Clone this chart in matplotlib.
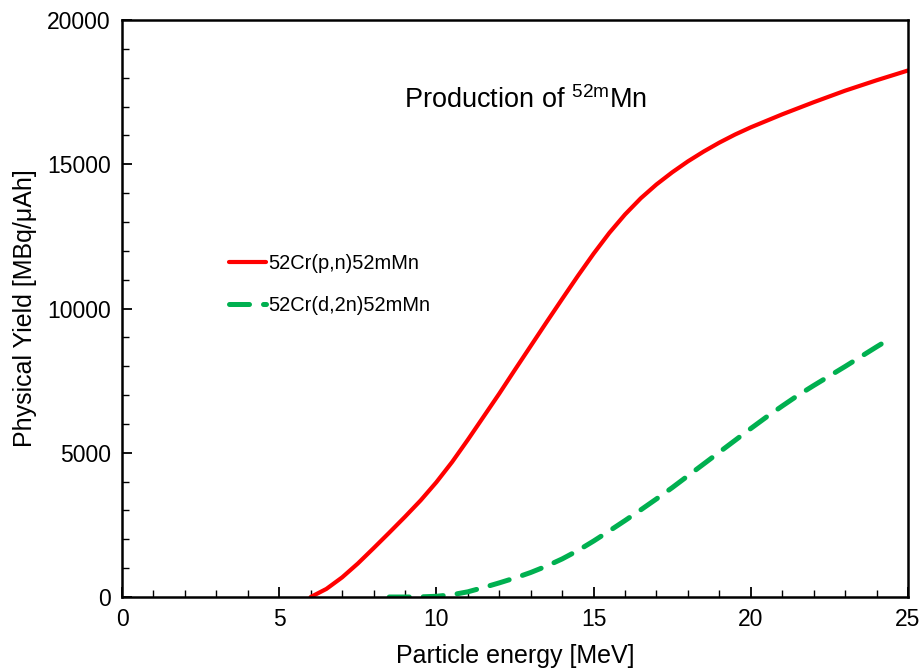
import matplotlib.pyplot as plt
from matplotlib.ticker import MultipleLocator

plt.rcParams['font.family'] = ['Liberation Sans', 'DejaVu Sans']
plt.rcParams['mathtext.fontset'] = 'custom'
plt.rcParams['mathtext.rm'] = 'Liberation Sans'

# 52Cr(p,n)52mMn
energy_pn = [6.0, 6.5, 7.0, 7.5, 8.0, 8.5, 9.0, 9.5, 10.0, 10.5, 11.0, 11.5, 12.0,
             12.5, 13.0, 13.5, 14.0, 14.5, 15.0, 15.5, 16.0, 16.5, 17.0, 17.5, 18.0,
             18.5, 19.0, 19.5, 20.0, 21.0, 22.0, 23.0, 24.0, 25.0]
yield_pn = [0, 280, 680, 1160, 1690, 2230, 2780, 3350, 3980, 4680, 5450, 6250, 7050,
            7880, 8700, 9520, 10330, 11130, 11900, 12620, 13260, 13820, 14300, 14720, 15100,
            15440, 15750, 16030, 16280, 16730, 17150, 17550, 17910, 18250]

# 52Cr(d,2n)52mMn
energy_d2n = [8.5, 9.0, 9.5, 10.0, 10.5, 11.0, 11.5, 12.0, 12.5, 13.0, 13.5, 14.0,
              14.5, 15.0, 15.5, 16.0, 16.5, 17.0, 17.5, 18.0, 18.5, 19.0, 19.5, 20.0,
              20.5, 21.0, 21.5, 22.0, 22.5, 23.0, 23.5, 24.0, 24.5]
yield_d2n = [0, 0, 5, 25, 80, 180, 330, 490, 660, 850, 1070, 1320, 1610, 1940, 2290,
             2650, 3020, 3400, 3790, 4200, 4610, 5020, 5430, 5840, 6240, 6620, 6990, 7330,
             7660, 7990, 8330, 8670, 9000]

fig = plt.figure(figsize=(9.23, 6.69), dpi=100)
ax = fig.add_axes([0.1322, 0.1076, 0.8515, 0.8625])

ax.plot(energy_pn, yield_pn, color='#ff0000', lw=3.0, solid_capstyle='round',
        label='52Cr(p,n)52mMn')
ax.plot(energy_d2n, yield_d2n, color='#00b050', lw=3.6, dashes=(4.0, 2.8),
        dash_capstyle='round', label='52Cr(d,2n)52mMn')

ax.set_xlim(0, 25)
ax.set_ylim(0, 20000)
ax.xaxis.set_major_locator(MultipleLocator(5))
ax.xaxis.set_minor_locator(MultipleLocator(1))
ax.yaxis.set_major_locator(MultipleLocator(5000))
ax.yaxis.set_minor_locator(MultipleLocator(1000))
ax.tick_params(which='major', direction='in', length=7, width=1.3, labelsize=16.5, pad=8)
ax.tick_params(which='minor', direction='in', length=5, width=1.0)
for s in ax.spines.values():
    s.set_linewidth(1.8)

ax.set_xlabel('Particle energy [MeV]', fontsize=18, labelpad=9)
ax.set_ylabel('Physical Yield [MBq/\u03bcAh]', fontsize=18, labelpad=7)

ax.text(0.514, 0.861, r'Production of $^{\mathrm{52m}}$Mn', transform=ax.transAxes,
        ha='center', va='center', fontsize=19.5)

ax.legend(loc='upper left', bbox_to_anchor=(0.113, 0.626), frameon=False, fontsize=14.4,
          handlelength=1.85, handletextpad=0.12, labelspacing=1.15)

fig.savefig('out.png', dpi=100)
